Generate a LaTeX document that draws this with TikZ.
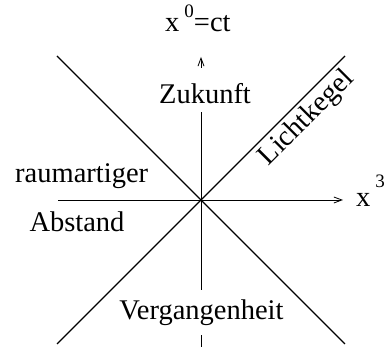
\documentclass[tikz,border=0pt]{standalone}
\usepackage{fontspec}
\setmainfont{Liberation Serif}
\usetikzlibrary{arrows.meta}
\begin{document}
\begin{tikzpicture}[x=1pt,y=-1pt,
  every node/.style={inner sep=0pt, font=\fontsize{28.5}{34}\selectfont},
  cone/.style={line width=1.1pt},
  axis/.style={line width=0.9pt, -{Straight Barb[length=8pt,width=6pt,line width=0.8pt]}},
  cover/.style={fill=white, inner xsep=2pt, inner ysep=0pt}]
\useasboundingbox (0,0) rectangle (389,347);
% light cone
\coordinate (nw) at (57,56);
\coordinate (ne) at (345,56);
\coordinate (sw) at (57,344);
\coordinate (se) at (345,344);
\draw[cone] (nw) -- (se);
\draw[cone] (sw) -- (ne);
% axes
\coordinate (hl) at (58,200);
\coordinate (hr) at (343,200);
\coordinate (vb) at (201,347);
\coordinate (vt) at (201,57);
\draw[axis] (hl) -- (hr);
\draw[axis] (vb) -- (vt);
% labels
\node[cover, anchor=base, text height=36pt, text depth=8pt] (zuk) at (205,104) {Zukunft};
\node[cover, anchor=base, text height=30pt, text depth=15pt] (verg) at (201.5,320) {Vergangenheit};
\node[anchor=base west] (x0) at (165,32) {x\hspace{5pt}\raisebox{14pt}{\fontsize{19}{19}\selectfont 0}=ct};
\node[anchor=base west] (x3) at (356,207) {x\hspace{5pt}\raisebox{19pt}{\fontsize{19}{19}\selectfont 3}};
\node[anchor=base west] (raum) at (15,183) {raumartiger};
\node[anchor=base] (abst) at (77,232) {Abstand};
\node[anchor=base, rotate=45] (licht) at (312,123) {Lichtkegel};
\end{tikzpicture}
\end{document}
